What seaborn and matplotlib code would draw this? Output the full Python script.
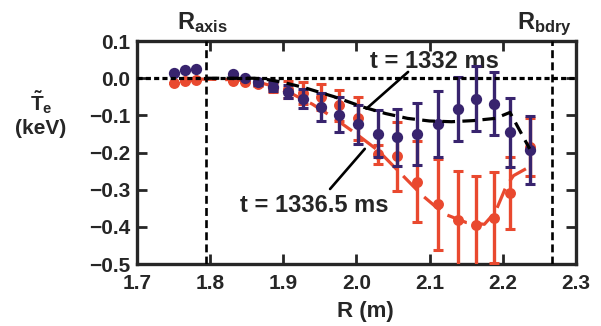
import numpy as np
import pandas as pd
import seaborn as sns
import matplotlib.pyplot as plt
from matplotlib import font_manager

# measured profiles (R in m, Te perturbation in keV)
r_pts = [1.750, 1.765, 1.780, 1.831, 1.848, 1.866, 1.886, 1.907, 1.927, 1.951, 1.976,
         2.002, 2.029, 2.056, 2.083, 2.112, 2.139, 2.164, 2.188, 2.210, 2.237]
te_1332 = [0.015, 0.022, 0.026, 0.012, 0.001, -0.011, -0.023, -0.036, -0.055, -0.077, -0.098,
           -0.124, -0.149, -0.159, -0.150, -0.123, -0.082, -0.055, -0.068, -0.145, -0.193]
err_1332 = [0, 0, 0, 0, 0, 0.006, 0.012, 0.018, 0.025, 0.038, 0.048,
            0.053, 0.064, 0.076, 0.084, 0.088, 0.086, 0.087, 0.086, 0.093, 0.092]
te_1336 = [-0.012, -0.008, -0.005, -0.008, -0.010, -0.015, -0.025, -0.030, -0.040, -0.050, -0.073,
           -0.108, -0.205, -0.210, -0.278, -0.339, -0.381, -0.396, -0.375, -0.309, -0.186]
err_1336 = [0, 0, 0, 0, 0, 0.005, 0.012, 0.022, 0.030, 0.035, 0.041,
            0.058, 0.025, 0.093, 0.110, 0.122, 0.132, 0.134, 0.122, 0.098, 0.078]

# fitted curves
fit_r_1332 = [1.795, 1.86, 1.88, 1.90, 1.93, 1.97, 2.01, 2.04, 2.07, 2.10, 2.13, 2.16, 2.19, 2.21, 2.237]
fit_te_1332 = [0.0, 0.0, -0.004, -0.011, -0.026, -0.050, -0.078, -0.095, -0.108, -0.115, -0.117,
               -0.114, -0.108, -0.092, -0.19]
fit_r_1336 = [1.78, 1.83, 1.86, 1.88, 1.91, 1.94, 1.97, 2.00, 2.03, 2.06, 2.09, 2.12, 2.15,
              2.175, 2.19, 2.205, 2.215, 2.237]
fit_te_1336 = [-0.002, -0.004, -0.008, -0.018, -0.040, -0.070, -0.108, -0.150, -0.195, -0.255,
               -0.315, -0.365, -0.388, -0.393, -0.360, -0.290, -0.262, -0.238]

r_axis = 1.795
r_bdry = 2.267

blue = '#38246e'
red = '#e9492f'

sns.set_style('ticks')
names = {f.name for f in font_manager.fontManager.ttflist}
fam = 'Liberation Sans Narrow' if 'Liberation Sans Narrow' in names else 'Liberation Sans'
plt.rcParams['font.family'] = [fam, 'DejaVu Sans']
plt.rcParams['font.weight'] = 'bold'
plt.rcParams['mathtext.fontset'] = 'custom'
plt.rcParams['mathtext.rm'] = fam + ':bold'
plt.rcParams['mathtext.it'] = fam + ':bold'
plt.rcParams['mathtext.bf'] = fam + ':bold'

fig = plt.figure(figsize=(6.01, 3.26), dpi=100)
ax = fig.add_axes([0.228, 0.190, 0.730, 0.684])

df = pd.DataFrame({'R': r_pts, 't1332': te_1332, 'e1332': err_1332,
                   't1336': te_1336, 'e1336': err_1336})

# t = 1336.5 ms
sns.lineplot(x=fit_r_1336, y=fit_te_1336, ax=ax, color=red, lw=2.3, sort=False,
             estimator=None, linestyle=(0, (6.5, 2.8)), zorder=2)
ax.errorbar(df['R'], df['t1336'], yerr=df['e1336'], fmt='none', ecolor=red,
            elinewidth=2.4, capsize=3.5, capthick=2.2, zorder=3)
sns.scatterplot(data=df, x='R', y='t1336', ax=ax, color=red, s=62, linewidth=0, zorder=4)

# t = 1332 ms
ax.errorbar(df['R'], df['t1332'], yerr=df['e1332'], fmt='none', ecolor=blue,
            elinewidth=2.4, capsize=3.5, capthick=2.2, zorder=5)
sns.scatterplot(data=df, x='R', y='t1332', ax=ax, color=blue, s=66, linewidth=0, zorder=6)
sns.lineplot(x=fit_r_1332, y=fit_te_1332, ax=ax, color='black', lw=2.3, sort=False,
             estimator=None, linestyle=(0, (4, 2.3)), zorder=7)

# reference lines
ax.axhline(0, color='black', lw=2.3, linestyle=(0, (1.6, 1.0)), zorder=8)
for rv in (r_axis, r_bdry):
    ax.axvline(rv, color='black', lw=1.9, linestyle=(0, (3, 1.6)), zorder=8)

# annotations
ax.text(2.107, 0.044, 't = 1332 ms', ha='center', va='center', fontsize=17, fontweight='bold')
ax.plot([2.0707, 2.0137], [0.017, -0.082], color='black', lw=1.9, zorder=9)
ax.text(1.942, -0.343, 't = 1336.5 ms', ha='center', va='center', fontsize=17, fontweight='bold')
ax.plot([1.964, 2.0115], [-0.298, -0.19], color='black', lw=1.9, zorder=9)

ax.text(1.789, 1.054, r'$\mathrm{R}_{\mathrm{axis}}$', transform=ax.get_xaxis_transform(),
        ha='center', va='baseline', fontsize=17)
ax.text(2.257, 1.054, r'$\mathrm{R}_{\mathrm{bdry}}$', transform=ax.get_xaxis_transform(),
        ha='center', va='baseline', fontsize=17)

ax.set_xlim(1.7, 2.3)
ax.set_ylim(-0.5, 0.1)
ax.set_xticks(np.arange(1.7, 2.31, 0.1))
ax.set_yticks(np.arange(-0.5, 0.11, 0.1))
ax.set_xticklabels([f'{v:.1f}' for v in np.arange(1.7, 2.31, 0.1)])
ax.set_yticklabels([f'{v:.1f}'.replace('-', '\u2212') if abs(v) > 1e-9 else '0.0'
                    for v in np.arange(-0.5, 0.11, 0.1)])

ax.tick_params(direction='in', top=True, right=True, length=7, width=2.0,
               labelsize=15)
ax.tick_params(axis='x', pad=7)
ax.tick_params(axis='y', pad=5)
for sp in ax.spines.values():
    sp.set_linewidth(2.4)
    sp.set_visible(True)

ax.set_xlabel('R (m)', fontsize=16, fontweight='bold')
ax.xaxis.set_label_coords(0.52, -0.165)
ax.set_ylabel('$\\tilde{\\mathrm{T}}_{\\mathrm{e}}$\n(keV)', fontsize=15, fontweight='bold',
              rotation=0, ha='center', va='center', multialignment='center')
ax.yaxis.set_label_coords(-0.219, 0.677)

fig.savefig('out.png', dpi=100)
